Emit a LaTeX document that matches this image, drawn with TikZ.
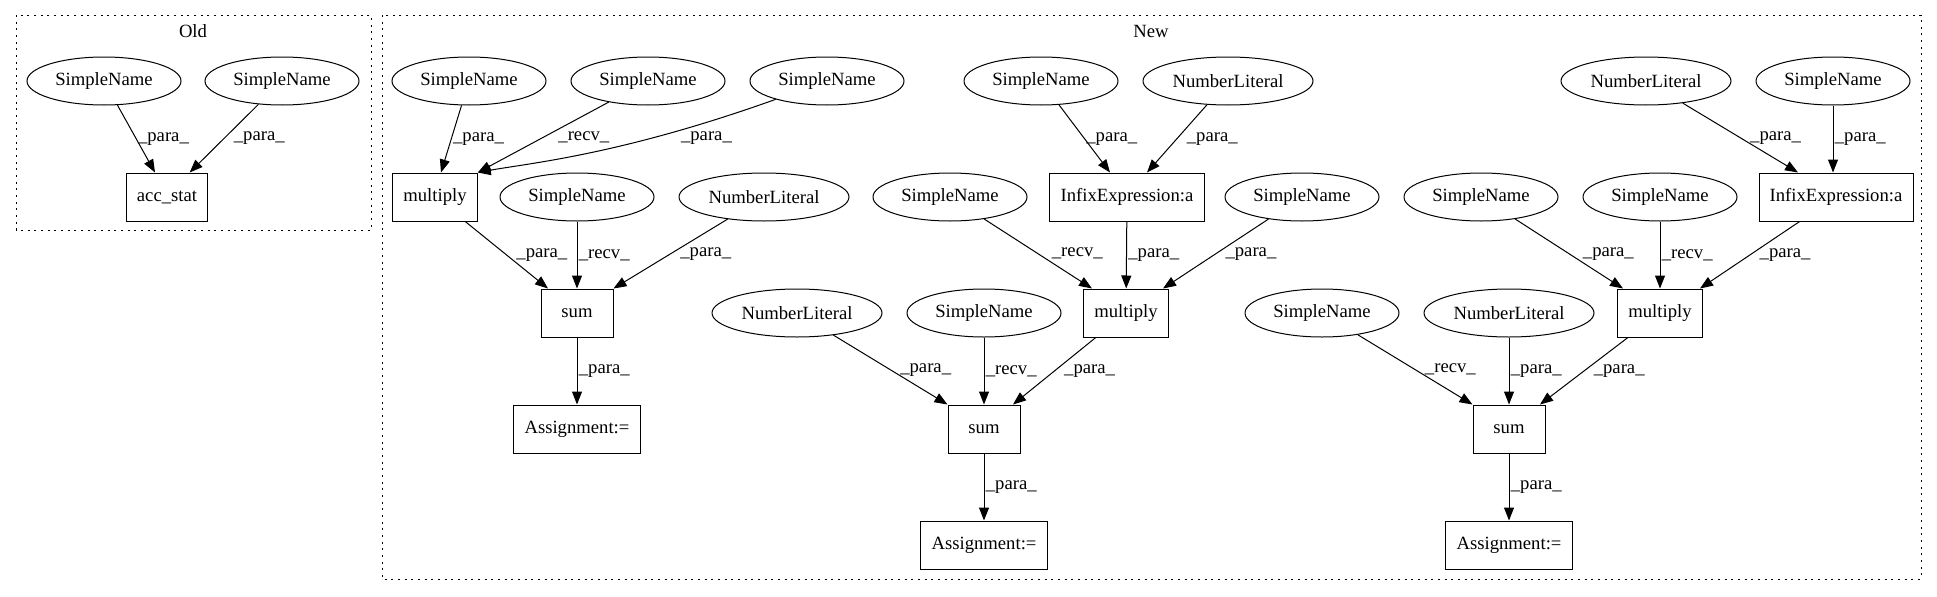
\documentclass[tikz,border=0pt]{standalone}
\usepackage{fontspec}
\setmainfont{Liberation Serif}
\usetikzlibrary{shapes, arrows.meta}

\newcommand{\paralbl}{\_para\_}
\newcommand{\recvlbl}{\_recv\_}

\tikzset{
  ast/.style={draw, line width=0.75pt, font=\fontsize{14}{16}\selectfont, inner sep=0pt, minimum height=36pt},
  sname/.style={ast, ellipse, minimum width=115.5pt},
  nlit/.style={ast, ellipse, minimum width=127.5pt},
  stmt/.style={ast, rectangle, inner xsep=8pt, minimum width=54pt},
  astarrow/.style={line width=0.75pt, -{Triangle[length=9.75pt, width=7.5pt]}},
  lbl/.style={anchor=west, inner sep=1pt, font=\fontsize{14}{16}\selectfont},
  lbls/.style={lbl, xshift=6pt},
  cluster/.style={line width=0.75pt, dash pattern=on 1.5pt off 3.5pt},
}

\begin{document}
\begin{tikzpicture}[x=0.75pt, y=-0.75pt]
        \useasboundingbox (0,0) rectangle (1937,596);
        \draw[cluster] (16,15) rectangle (371,230);
        \draw[cluster] (382,15) rectangle (1921,579);
        \node[lbl, anchor=center] (oldtitle) at (193,31) {Old};
        \node[lbl, anchor=center] (newtitle) at (1151,31) {New};

        \node[sname] (oldsa) at (104,81) {SimpleName};
        \node[sname] (oldsb) at (282,81) {SimpleName};
        \node[stmt] (accstat) at (167,197) {acc\_stat};
        \draw[astarrow] (oldsa) -- node[lbl] {\paralbl} ([xshift=-9pt]accstat.north);
        \draw[astarrow] (oldsb) -- node[lbls] {\paralbl} ([xshift=17pt]accstat.north);

        \node[sname] (sn1) at (469,81) {SimpleName};
        \node[sname] (sn2) at (648,81) {SimpleName};
        \node[sname] (sn3) at (827,81) {SimpleName};
        \node[sname] (sn4) at (1041,81) {SimpleName};
        \node[nlit] (nl1) at (1228,81) {NumberLiteral};
        \node[nlit] (nl2) at (1646,81) {NumberLiteral};
        \node[sname] (sn5) at (1833,81) {SimpleName};

        \node[stmt] (mul1) at (435,197) {multiply};
        \node[sname] (sn6) at (577,197) {SimpleName};
        \node[nlit] (nl3) at (764,197) {NumberLiteral};
        \node[sname] (sn7) at (950,197) {SimpleName};
        \node[stmt] (inf1) at (1127,197) {InfixExpression:a};
        \node[sname] (sn8) at (1302,197) {SimpleName};
        \node[sname] (sn9) at (1481,197) {SimpleName};
        \node[sname] (sn10) at (1660,197) {SimpleName};
        \node[stmt] (inf2) at (1836,197) {InfixExpression:a};

        \node[stmt] (sum1) at (577,313) {sum};
        \node[nlit] (nl4) at (797,313) {NumberLiteral};
        \node[sname] (sn11) at (984,313) {SimpleName};
        \node[stmt] (mul2) at (1126,313) {multiply};
        \node[sname] (sn12) at (1322,313) {SimpleName};
        \node[nlit] (nl5) at (1509,313) {NumberLiteral};
        \node[stmt] (mul3) at (1660,313) {multiply};

        \node[stmt] (asg1) at (577,429) {Assignment:=};
        \node[stmt] (sum2) at (984,429) {sum};
        \node[stmt] (sum3) at (1509,429) {sum};

        \node[stmt] (asg2) at (984,545) {Assignment:=};
        \node[stmt] (asg3) at (1509,545) {Assignment:=};

        \draw[astarrow] (sn1) -- node[lbl] {\paralbl} ([xshift=4.5pt]mul1.north);
        \draw[astarrow] (sn2) -- node[lbl, xshift=10pt] {\recvlbl} (mul1.north east);
        \draw[astarrow] (sn3) .. controls (620,155) and (530,163) .. (mul1.north east)
                node[lbl, pos=0.3, xshift=20pt] {\paralbl};
        \draw[astarrow] (mul1) -- node[lbls] {\paralbl} ([xshift=-21.75pt]sum1.north);
        \draw[astarrow] (sn6) -- node[lbl] {\recvlbl} (sum1);
        \draw[astarrow] (nl3) -- node[lbls] {\paralbl} (sum1.north east);
        \draw[astarrow] (sum1) -- node[lbl] {\paralbl} (asg1);

        \draw[astarrow] (sn4) -- node[lbl] {\paralbl} ([xshift=-12.75pt]inf1.north);
        \draw[astarrow] (nl1) -- node[lbls] {\paralbl} ([xshift=15pt]inf1.north);
        \draw[astarrow] (sn7) -- node[lbl, xshift=9pt] {\recvlbl} ([xshift=-25.5pt]mul2.north);
        \draw[astarrow] (inf1) -- node[lbl] {\paralbl} (mul2);
        \draw[astarrow] (sn8) -- node[lbls] {\paralbl} ([xshift=27.75pt]mul2.north);
        \draw[astarrow] (nl4) -- node[lbls] {\paralbl} (sum2.north west);
        \draw[astarrow] (sn11) -- node[lbl] {\recvlbl} (sum2);
        \draw[astarrow] (mul2) -- node[lbls] {\paralbl} ([xshift=21.75pt]sum2.north);
        \draw[astarrow] (sum2) -- node[lbl] {\paralbl} (asg2);

        \draw[astarrow] (nl2) -- node[lbls] {\paralbl} ([xshift=-28.5pt]inf2.north);
        \draw[astarrow] (sn5) -- node[lbl] {\paralbl} (sn5 |- inf2.north);
        \draw[astarrow] (sn9) -- node[lbl, xshift=9pt] {\paralbl} ([xshift=-27.75pt]mul3.north);
        \draw[astarrow] (sn10) -- node[lbl] {\recvlbl} (mul3);
        \draw[astarrow] (inf2) -- node[lbls] {\paralbl} ([xshift=30pt]mul3.north);
        \draw[astarrow] (sn12) -- node[lbls] {\recvlbl} (sum3.north west);
        \draw[astarrow] (nl5) -- node[lbl] {\paralbl} (sum3);
        \draw[astarrow] (mul3) -- node[lbls] {\paralbl} ([xshift=23.25pt]sum3.north);
        \draw[astarrow] (sum3) -- node[lbl] {\paralbl} (asg3);
\end{tikzpicture}
\end{document}
